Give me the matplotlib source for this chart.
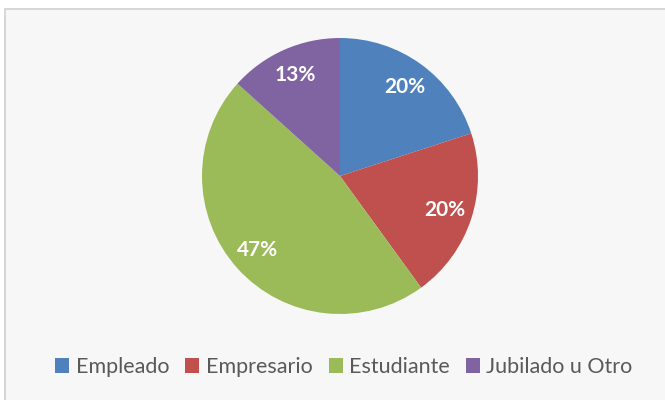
import matplotlib.pyplot as plt
from matplotlib.patches import Rectangle

categories = ["Empleado", "Empresario", "Estudiante", "Jubilado u Otro"]
counts = [3, 3, 7, 2]
colors = ["#4F81BD", "#C0504D", "#9BBB59", "#8064A2"]

plt.rcParams['font.family'] = ['Lato', 'DejaVu Sans']

fig = plt.figure(figsize=(6.65, 4.0), dpi=100)
fig.patch.set_facecolor('white')

# chart area frame
frame = Rectangle((5 / 665, -0.02), 1.1, 1.02 - 9 / 400, transform=fig.transFigure,
                  facecolor='#F7F7F7', edgecolor='#D0D0D0', linewidth=1.2, zorder=-10)
fig.patches.append(frame)

# pie axes: center (340,176), radius 138 px
r = 138
cx, cy = 340, 176
ax = fig.add_axes([(cx - r) / 665, (400 - cy - r) / 400, 2 * r / 665, 2 * r / 400])
ax.set_zorder(5)
wedges, texts, autotexts = ax.pie(
    counts, colors=colors, startangle=90, counterclock=False,
    autopct=lambda p: f"{p:.0f}%", pctdistance=0.8,
    wedgeprops=dict(linewidth=0),
    textprops=dict(color='white', fontsize=15, fontweight='bold'))
ax.set_aspect('auto')
ax.set_xlim(-1, 1)
ax.set_ylim(-1, 1)

leg = fig.legend(wedges, categories, loc='center', bbox_to_anchor=(344 / 665, 1 - 367 / 400),
                 ncol=4, frameon=False, fontsize=15.5, handlelength=0.65, handleheight=0.65,
                 handletextpad=0.3, columnspacing=0.75, labelcolor='#595959')
leg.set_zorder(5)

fig.savefig('out.png', dpi=100)
